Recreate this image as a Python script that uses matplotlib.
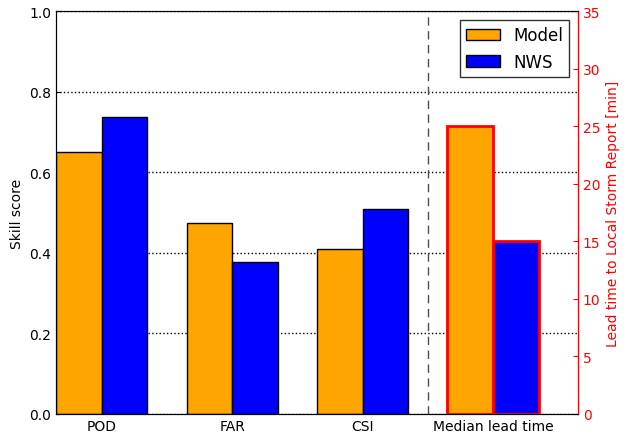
import numpy as np
import matplotlib
matplotlib.use('Agg')
import matplotlib.pyplot as plt

categories = ['POD', 'FAR', 'CSI', 'Median lead time']
model_skill = [0.65, 0.474, 0.409]
nws_skill = [0.737, 0.377, 0.509]
model_lead = 25.0
nws_lead = 15.0

width = 0.35
x = np.arange(3)

fig = plt.figure(figsize=(6.24, 4.35), dpi=100)
ax = fig.add_axes([0.09, 0.046, 0.836, 0.926])
ax.set_axisbelow(True)
ax.grid(axis='y', ls=':', color='k', lw=1)
ax.bar(x - width, model_skill, width, align='edge', color='orange', edgecolor='k', label='Model')
ax.bar(x, nws_skill, width, align='edge', color='blue', edgecolor='k', label='NWS')
ax.set_xlim(-0.35, 3.65)
ax.set_ylim(0, 1)
ax.set_xticks(np.arange(4))
ax.set_xticklabels(categories)
ax.set_ylabel('Skill score')
ax.axvline(2.5, color='0.3', ls=(0, (6, 4)), lw=1)
ax.tick_params(direction='in')
ax.tick_params(axis='x', length=0)

ax2 = ax.twinx()
ax2.bar([3 - width], [model_lead], width, align='edge', color='orange', edgecolor='red', lw=2)
ax2.bar([3], [nws_lead], width, align='edge', color='blue', edgecolor='red', lw=2)
ax2.set_ylim(0, 35)
ax2.set_yticks(range(0, 36, 5))
ax2.set_ylabel('Lead time to Local Storm Report [min]', color='red')
ax2.tick_params(axis='y', colors='red', direction='in')
ax2.spines['right'].set_color('red')
ax.set_xlim(-0.35, 3.65)

h, l = ax.get_legend_handles_labels()
ax2.legend(h, l, loc='upper right', fontsize=12, fancybox=False, edgecolor='k')

fig.savefig('out.png')
